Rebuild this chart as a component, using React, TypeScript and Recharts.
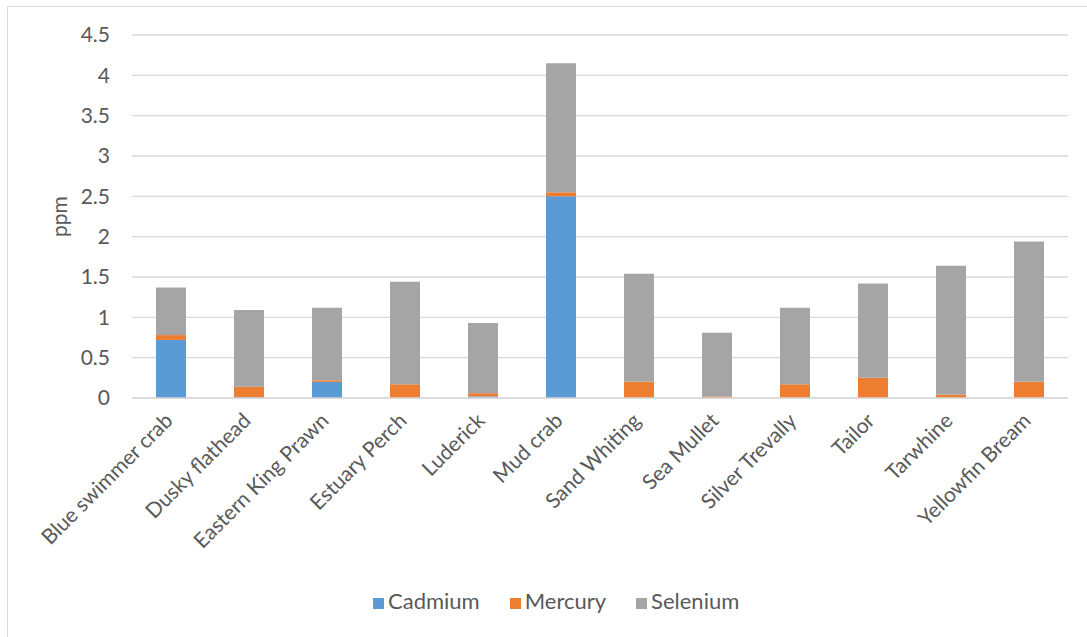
import React from 'react';
import { BarChart, Bar, XAxis, YAxis, CartesianGrid, Legend } from 'recharts';

const categories = [
  'Blue swimmer crab', 'Dusky flathead', 'Eastern King Prawn', 'Estuary Perch', 'Luderick', 'Mud crab',
  'Sand Whiting', 'Sea Mullet', 'Silver Trevally', 'Tailor', 'Tarwhine', 'Yellowfin Bream',
];
const cadmium = [0.72, 0.01, 0.2, 0.0, 0.02, 2.5, 0.0, 0.0, 0.0, 0.0, 0.0, 0.0];
const mercury = [0.06, 0.13, 0.02, 0.17, 0.04, 0.05, 0.2, 0.02, 0.17, 0.25, 0.04, 0.2];
const selenium = [0.59, 0.95, 0.9, 1.27, 0.87, 1.6, 1.34, 0.79, 0.95, 1.17, 1.6, 1.74];
const yTicks = [0, 0.5, 1, 1.5, 2, 2.5, 3, 3.5, 4, 4.5];

const data = categories.map((name, i) => ({
  name,
  Cadmium: cadmium[i],
  Mercury: mercury[i],
  Selenium: selenium[i],
}));

const FONT = 'Lato, "Open Sans", sans-serif';
const TEXT = '#595959';

const CatTick = (props: any) => {
  const { x, y, payload } = props;
  return (
    <g transform={`translate(${x + 3},${y + 16})`}>
      <text
        x={0}
        y={0}
        textAnchor="end"
        transform="rotate(-45)"
        fill={TEXT}
        fontSize={21}
        fontFamily={FONT}
      >
        {payload.value}
      </text>
    </g>
  );
};

const YLabel = (props: any) => {
  const { viewBox } = props;
  const cx = viewBox.x + 58;
  const cy = viewBox.y + viewBox.height / 2;
  return (
    <text
      x={cx}
      y={cy}
      textAnchor="middle"
      dominantBaseline="central"
      transform={`rotate(-90, ${cx}, ${cy})`}
      fill={TEXT}
      fontSize={21}
      fontFamily={FONT}
    >
      ppm
    </text>
  );
};

export default function App() {
  return (
    <div style={{ position: 'absolute', left: 0, top: 0, width: 1087, height: 637, background: '#fff', overflow: 'hidden' }}>
      <div style={{ position: 'absolute', left: 7, top: 6, width: 1100, height: 650, border: '1px solid #d9d9d9' }} />
      <BarChart
        width={1087}
        height={637}
        data={data}
        margin={{ top: 35, right: 19, left: 0, bottom: 0 }}
        barSize={30}
        style={{ position: 'absolute', left: 0, top: 0 }}
      >
        <CartesianGrid vertical={false} stroke="#d9d9d9" strokeWidth={1.3} />
        <XAxis
          dataKey="name"
          interval={0}
          height={212}
          tickLine={false}
          axisLine={{ stroke: '#d9d9d9', strokeWidth: 1.3 }}
          tick={<CatTick />}
        />
        <YAxis
          width={132}
          domain={[0, 4.5]}
          ticks={yTicks}
          tickLine={false}
          axisLine={false}
          tick={{ fill: TEXT, fontSize: 21, fontFamily: FONT }}
          tickMargin={16}
          label={<YLabel />}
        />
        <Legend
          verticalAlign="bottom"
          align="left"
          iconType="square"
          iconSize={11}
          wrapperStyle={{ left: 373, bottom: 23, width: 'auto', fontFamily: FONT, fontSize: 22 }}
          formatter={(v: string) => <span style={{ color: TEXT, marginRight: 20 }}>{v}</span>}
        />
        <Bar dataKey="Cadmium" stackId="a" fill="#5B9BD5" isAnimationActive={false} />
        <Bar dataKey="Mercury" stackId="a" fill="#ED7D31" isAnimationActive={false} />
        <Bar dataKey="Selenium" stackId="a" fill="#A5A5A5" isAnimationActive={false} />
      </BarChart>
    </div>
  );
}
